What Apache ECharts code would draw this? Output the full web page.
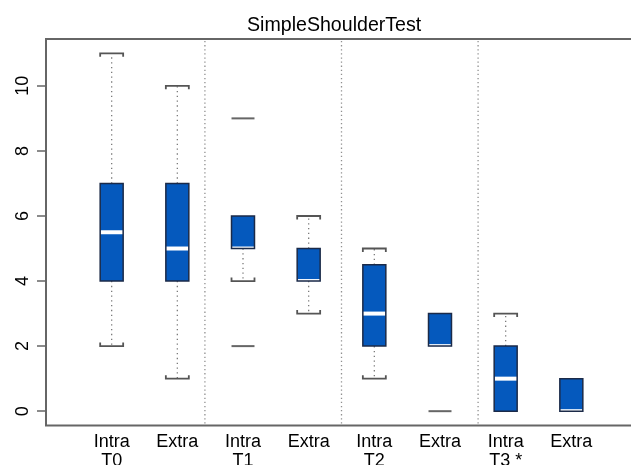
<!DOCTYPE html>
<html>
<head>
<meta charset="utf-8">
<script src="https://cdn.jsdelivr.net/npm/echarts@6/dist/echarts.min.js"></script>
<style>html,body{margin:0;padding:0;background:#fff;}#c{width:631px;height:465px;}</style>
</head>
<body>
<div id="c"></div>
<script>
const categories = ['Intra\nT0','Extra','Intra\nT1','Extra','Intra\nT2','Extra','Intra\nT3 *','Extra'];
const lowerWhisker = [2, 1, 4, 3, 1, 2, 0, 0];
const q1 = [4, 4, 5, 4, 2, 2, 0, 0];
const medians = [5.5, 5, 5, 4, 3, 2, 1, 0];
const q3 = [7, 7, 6, 5, 4.5, 3, 2, 1];
const upperWhisker = [11, 10, 6, 6, 5, 3, 3, 1];
const outlierGroup = [3, 3, 6];
const outlierValue = [9, 2, 0];
const yTicks = [0, 2, 4, 6, 8, 10];
const separators = [2.42, 4.5, 6.58];

const boxData = categories.map((c, i) => [i + 1, lowerWhisker[i], q1[i], medians[i], q3[i], upperWhisker[i]]);
const outData = outlierGroup.map((g, i) => [g, outlierValue[i]]);
const sepData = separators.map(s => [s]);

const chart = echarts.init(document.getElementById('c'), null, {renderer: 'canvas'});
const FONT = '"Liberation Sans", Arial, sans-serif';

function renderBox(params, api) {
  const x = api.value(0);
  const lo = api.coord([x, api.value(1)]);
  const b = api.coord([x, api.value(2)]);
  const m = api.coord([x, api.value(3)]);
  const t = api.coord([x, api.value(4)]);
  const hi = api.coord([x, api.value(5)]);
  const w = api.size([0.35, 0])[0];
  const cx = lo[0];
  const x0 = cx - w / 2, x1 = cx + w / 2;
  const children = [];
  const whiskerStyle = {stroke: '#7a7a7a', lineWidth: 1.3, lineDash: [1.3, 3.5]};
  const capStyle = {stroke: '#555', lineWidth: 1.8, fill: null};
  if (api.value(5) > api.value(4)) {
    children.push({type: 'line', shape: {x1: cx, y1: t[1], x2: cx, y2: hi[1]}, style: whiskerStyle});
    children.push({type: 'polyline', shape: {points: [[x0, hi[1] + 3.5], [x0, hi[1]], [x1, hi[1]], [x1, hi[1] + 3.5]]}, style: capStyle});
  }
  if (api.value(1) < api.value(2)) {
    children.push({type: 'line', shape: {x1: cx, y1: b[1], x2: cx, y2: lo[1]}, style: whiskerStyle});
    children.push({type: 'polyline', shape: {points: [[x0, lo[1] - 3.5], [x0, lo[1]], [x1, lo[1]], [x1, lo[1] - 3.5]]}, style: capStyle});
  }
  children.push({type: 'rect', shape: {x: x0, y: t[1], width: w, height: b[1] - t[1]}, style: {fill: '#0559bd', stroke: null}});
  const my0 = Math.max(m[1] - 2, t[1]);
  const my1 = Math.min(m[1] + 2, b[1]);
  children.push({type: 'rect', shape: {x: x0, y: my0, width: w, height: my1 - my0}, style: {fill: '#ffffff'}});
  children.push({type: 'rect', shape: {x: x0, y: t[1], width: w, height: b[1] - t[1]}, style: {fill: null, stroke: '#1b2a48', lineWidth: 1.5}});
  return {type: 'group', children: children};
}

function renderOutlier(params, api) {
  const p = api.coord([api.value(0), api.value(1)]);
  const w = api.size([0.35, 0])[0];
  return {type: 'line', shape: {x1: p[0] - w / 2, y1: p[1], x2: p[0] + w / 2, y2: p[1]}, style: {stroke: '#666', lineWidth: 2}};
}

function renderSep(params, api) {
  const top = api.coord([api.value(0), 11.44]);
  const bot = api.coord([api.value(0), -0.44]);
  return {type: 'line', shape: {x1: top[0], y1: top[1] + 2, x2: bot[0], y2: bot[1] - 2}, style: {stroke: '#909090', lineWidth: 1.3, lineDash: [1.3, 2.8]}};
}

chart.setOption({
  backgroundColor: '#ffffff',
  animation: false,
  title: {
    text: 'SimpleShoulderTest',
    left: 242, top: 11,
    textStyle: {fontFamily: FONT, fontSize: 19.6, fontWeight: 'normal', color: '#000'}
  },
  grid: {left: 46, top: 39, right: -6, height: 386.5, outerBoundsMode: 'none', containLabel: false, show: true, borderColor: '#666', borderWidth: 2, backgroundColor: 'transparent'},
  xAxis: {
    type: 'value', min: 0, max: 9,
    axisLine: {show: false}, axisTick: {show: false}, splitLine: {show: false},
    axisLabel: {
      customValues: [1, 2, 3, 4, 5, 6, 7, 8],
      formatter: v => categories[Math.round(v) - 1] || '',
      fontFamily: FONT, fontSize: 18, lineHeight: 19, color: '#000', margin: 7
    }
  },
  yAxis: {
    type: 'value', min: -0.44, max: 11.44,
    axisLine: {show: false}, splitLine: {show: false},
    axisTick: {show: true, customValues: yTicks, length: 9, lineStyle: {color: '#666', width: 1.5}},
    axisLabel: {customValues: yTicks, rotate: 90, fontFamily: FONT, fontSize: 18, color: '#000', margin: 14}
  },
  series: [
    {type: 'custom', renderItem: renderSep, data: sepData, encode: {x: 0}, silent: true, clip: false},
    {type: 'custom', renderItem: renderBox, data: boxData, encode: {x: 0, y: [1, 2, 3, 4, 5]}, z: 3},
    {type: 'custom', renderItem: renderOutlier, data: outData, encode: {x: 0, y: 1}, z: 3}
  ]
});
</script>
</body>
</html>
